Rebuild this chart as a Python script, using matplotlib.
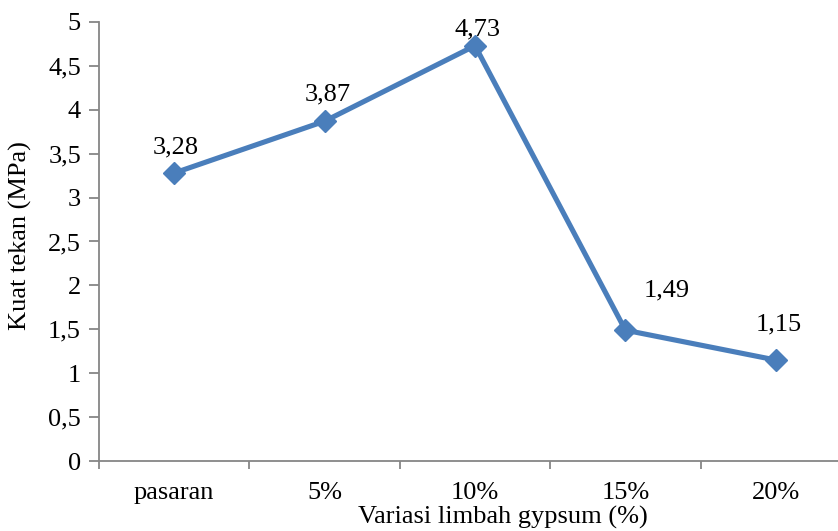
import matplotlib
matplotlib.use("Agg")
import matplotlib.pyplot as plt

categories = ["pasaran", "5%", "10%", "15%", "20%"]
kuat_tekan = [3.28, 3.87, 4.73, 1.49, 1.15]
y_ticks = [0, 0.5, 1, 1.5, 2, 2.5, 3, 3.5, 4, 4.5, 5]

# label baseline offsets from each marker, in pixels (dx, dy)
label_offsets_px = [(2, 20), (3, 21), (2, 10), (41, 34), (3, 30)]

plt.rcParams["font.family"] = ["Liberation Serif", "DejaVu Serif"]

DPI = 100
W, H = 838, 531
fig = plt.figure(figsize=(W / DPI, H / DPI), dpi=DPI)
left, right, bottom, top = 99, 851, 461, 22
ax = fig.add_axes([left / W, 1 - bottom / H, (right - left) / W, (bottom - top) / H])

FS = 19
blue = "#4A7EBB"
x = list(range(len(categories)))
ax.plot(x, kuat_tekan, color=blue, lw=3.7, marker="D", markersize=11,
        markerfacecolor=blue, markeredgecolor=blue, zorder=3)

px2pt = 72 / DPI
for xi, v, (dx, dy) in zip(x, kuat_tekan, label_offsets_px):
    ax.annotate(f"{v:.2f}".replace(".", ","), (xi, v),
                xytext=(dx * px2pt, dy * px2pt), textcoords="offset points",
                ha="center", va="baseline", fontsize=FS, color="black")

ax.set_xlim(-0.5, len(categories) - 0.5)
ax.set_ylim(0, 5)
ax.set_yticks(y_ticks)
ax.set_yticklabels([f"{t:g}".replace(".", ",") for t in y_ticks], fontsize=FS)

# category labels sit between tick marks placed at the boundaries
ax.set_xticks([i - 0.5 for i in range(len(categories) + 1)])
ax.set_xticklabels([])
ax.set_xticks(x, minor=True)
ax.set_xticklabels(categories, minor=True, fontsize=FS)
ax.tick_params(axis="x", which="minor", length=0, pad=15)
ax.tick_params(axis="x", which="major", length=6, width=1.3, color="#868686")
ax.tick_params(axis="y", length=7, width=1.3, color="#868686", pad=6)

for s in ["top", "right"]:
    ax.spines[s].set_visible(False)
for s in ["left", "bottom"]:
    ax.spines[s].set_color("#868686")
    ax.spines[s].set_linewidth(1.3)

fig.text(503 / W, 1 - 517 / H, "Variasi limbah gypsum (%)", ha="center",
         va="center", fontsize=FS)
fig.text(20 / W, 1 - 236 / H, "Kuat tekan (MPa)", ha="center", va="center",
         rotation=90, fontsize=FS)

fig.savefig("out.png", dpi=DPI)
